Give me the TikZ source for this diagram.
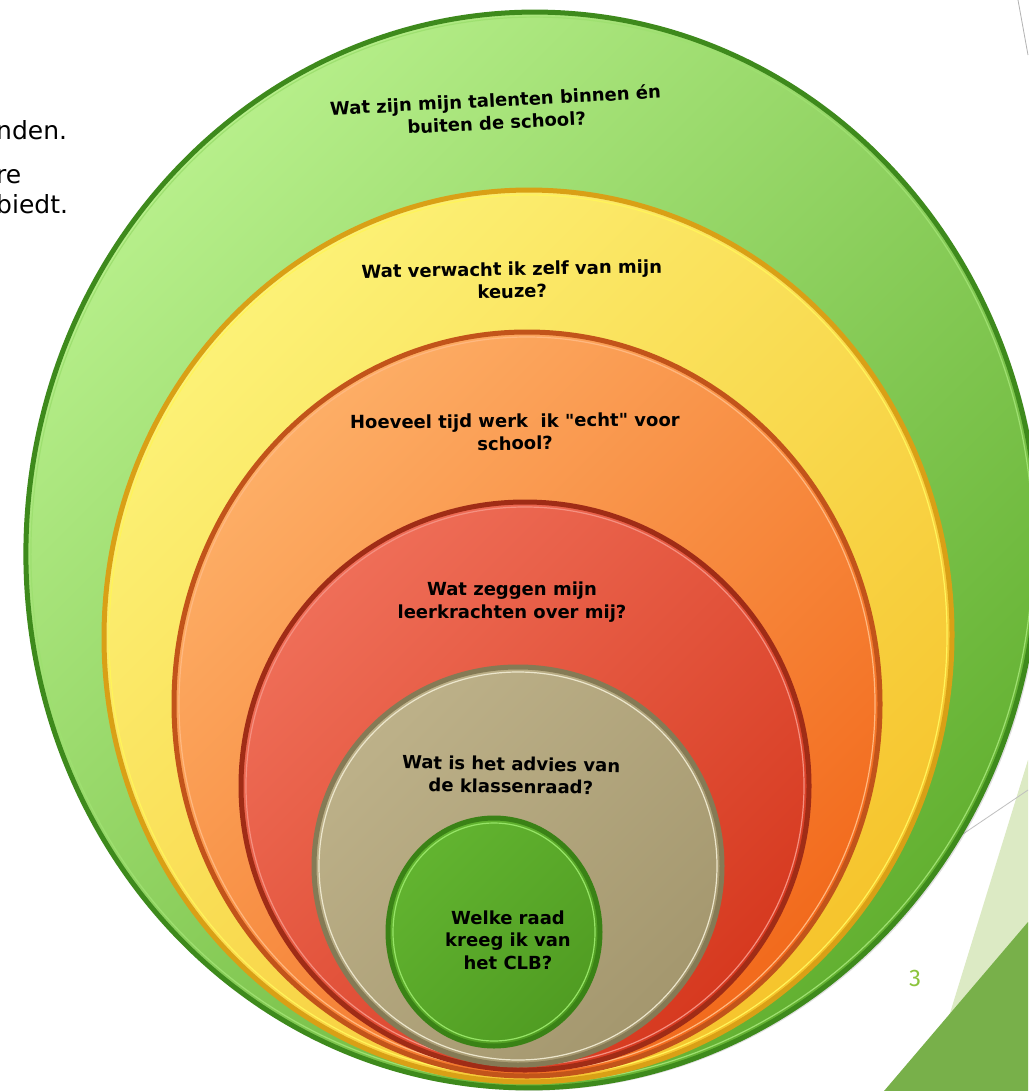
\documentclass[tikz,border=0pt]{standalone}
\usepackage{fontspec}
\newfontfamily\vfont{DejaVu Sans}
\newfontfamily\pfont{Fira Sans}
\definecolor{gA}{HTML}{B8F08C}\definecolor{gB}{HTML}{62B030}\definecolor{gR}{HTML}{3E8A1C}\definecolor{gH}{HTML}{9EE070}
\definecolor{yA}{HTML}{FCF277}\definecolor{yB}{HTML}{F6C42C}\definecolor{yR}{HTML}{D9A016}\definecolor{yH}{HTML}{FFF45A}
\definecolor{oA}{HTML}{FDAE66}\definecolor{oB}{HTML}{F26A1C}\definecolor{oR}{HTML}{C2541A}\definecolor{oH}{HTML}{FFB880}
\definecolor{rA}{HTML}{EF6E58}\definecolor{rB}{HTML}{D6391F}\definecolor{rR}{HTML}{A02C16}\definecolor{rH}{HTML}{F59080}
\definecolor{tA}{HTML}{BDB189}\definecolor{tB}{HTML}{A4976E}\definecolor{tR}{HTML}{857A55}\definecolor{tH}{HTML}{ECE6CC}
\definecolor{iA}{HTML}{62B430}\definecolor{iB}{HTML}{509C22}\definecolor{iR}{HTML}{3A8216}\definecolor{iH}{HTML}{96E466}
\definecolor{slideL}{HTML}{DCEAC4}\definecolor{slideD}{HTML}{78B04A}\definecolor{pnum}{HTML}{8CC43C}
\tikzset{
  qtext/.style={align=center, font=\vfont\bfseries\fontsize{18}{22.5}\selectfont, text=black, inner sep=0pt},
  sidetext/.style={anchor=base west, font=\vfont\fontsize{25}{25}\selectfont, text=black, inner sep=0pt},
}
\begin{document}
\begin{tikzpicture}[x=1pt,y=-1pt]
\useasboundingbox (0,0) rectangle (1028,1091);
\fill[white] (0,0) rectangle (1028,1091);
% slide decorations
\fill[slideL] (1028,760) -- (926,1091) -- (1028,1091) -- cycle;
\fill[slideD] (1028,922) -- (884,1091) -- (1028,1091) -- cycle;
\draw[gray!60, line width=0.8pt] (1018,0) -- (1028,55);
\draw[gray!50, line width=0.8pt] (960,836) -- (1028,790);
% side text
\node[sidetext] (s1) at (-4,140) {nden.};
\node[sidetext] (s2) at (-4,184) {re};
\node[sidetext] (s3) at (-4,214) {biedt.};
% eggs: {cx}{cy}{rx}{ry}{light}{dark}{rim}{highlight}{angle}
\newcommand\egg[9]{%
  \begin{scope}[rotate around={#9:(#1,#2)}]
  \shade[top color=#5, bottom color=#6, shading angle=45] (#1,#2) ellipse [x radius=#3pt, y radius=#4pt];
  \draw[#7, line width=5pt] (#1,#2) ellipse [x radius=#3pt, y radius=#4pt];
  \draw[#8, line width=1.2pt] (#1,#2) ellipse [x radius=#3pt-5pt, y radius=#4pt-5pt];
  \end{scope}
}
\fill[black, opacity=0.12, rotate around={-3:(532,550)}] (534.5,552) ellipse [x radius=507pt, y radius=538.5pt];
\egg{532}{550}{506}{538}{gA}{gB}{gR}{gH}{-3}
\egg{528}{636}{424}{446}{yA}{yB}{yR}{yH}{-1.5}
\egg{527}{704}{353}{372}{oA}{oB}{oR}{oH}{0}
\egg{525}{786}{284}{284}{rA}{rB}{rR}{rH}{0}
\egg{518}{866}{204}{199}{tA}{tB}{tR}{tH}{0}
\egg{494}{932}{106}{114}{iA}{iB}{iR}{iH}{0}
% texts
\node[qtext, rotate=3] (q1) at (496,111) {Wat zijn mijn talenten binnen én\\buiten de school?};
\node[qtext, rotate=1] (q2) at (512,280) {Wat verwacht ik zelf van mijn\\keuze?};
\node[qtext, rotate=0.5] (q3) at (515,432) {Hoeveel tijd werk~ ik "echt" voor\\school?};
\node[qtext] (q4) at (512,602) {Wat zeggen mijn\\leerkrachten over mij?};
\node[qtext, rotate=-1] (q5) at (511,775) {Wat is het advies van\\de klassenraad?};
\node[qtext] (q6) at (508,940) {Welke raad\\kreeg ik van\\het CLB?};
\node[font=\pfont\fontsize{24}{24}\selectfont, text=pnum] (pn) at (915,978) {3};
\end{tikzpicture}
\end{document}
